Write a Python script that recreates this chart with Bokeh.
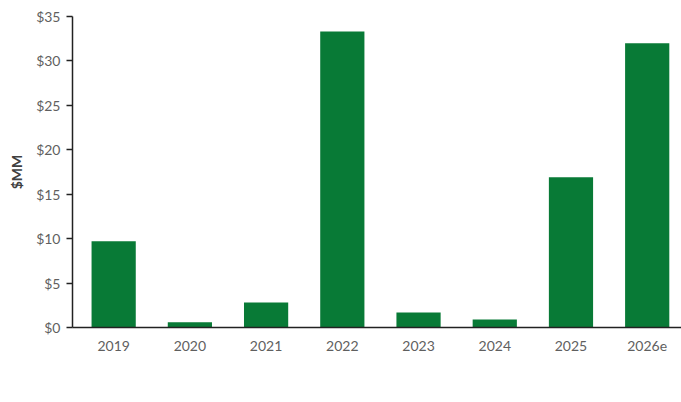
from bokeh.plotting import figure
from bokeh.layouts import column
from bokeh.models import (Range1d, FixedTicker, NumeralTickFormatter, Legend, LegendItem,
                          ColumnDataSource, CDSView, IndexFilter)
from bokeh.embed import file_html
from bokeh.resources import INLINE

years = ["2019", "2020", "2021", "2022", "2023", "2024", "2025", "2026e"]
spending = [9.7, 0.6, 2.8, 33.3, 1.7, 0.9, 16.9, 32.0]
y_ticks = [0, 5, 10, 15, 20, 25, 30, 35]
series_name = "Turnaround spending"
bar_color = "#087a36"

xs = list(range(len(years)))
src = ColumnDataSource(dict(x=xs, top=spending))

p = figure(width=681, height=372, output_backend="svg", toolbar_location=None,
           x_range=Range1d(-0.54, 7.45), y_range=Range1d(0, 35),
           min_border_left=72, min_border_right=0, min_border_top=16, min_border_bottom=45)
p.outline_line_color = None
p.grid.grid_line_color = None
p.background_fill_color = "white"

r = p.vbar(x="x", top="top", width=0.58, source=src, fill_color=bar_color, line_color=None)

font = "Lato"
gray = "#5f5f5f"

p.xaxis.ticker = FixedTicker(ticks=xs)
p.xaxis.major_label_overrides = {i: y for i, y in enumerate(years)}
p.xaxis.major_tick_line_color = None
p.xaxis.major_tick_out = 0
p.xaxis.minor_tick_line_color = None
p.xaxis.axis_line_color = "#222222"
p.xaxis.axis_line_width = 1.5
p.xaxis.major_label_text_font = font
p.xaxis.major_label_text_font_size = "14px"
p.xaxis.major_label_text_color = gray
p.xaxis.major_label_standoff = 13

p.yaxis.ticker = FixedTicker(ticks=y_ticks)
p.yaxis.formatter = NumeralTickFormatter(format="$0")
p.yaxis.major_tick_in = 0
p.yaxis.major_tick_out = 6
p.yaxis.minor_tick_line_color = None
p.yaxis.axis_line_color = "#222222"
p.yaxis.axis_line_width = 1.5
p.yaxis.major_tick_line_color = "#222222"
p.yaxis.major_tick_line_width = 1.5
p.yaxis.major_label_text_font = font
p.yaxis.major_label_text_font_size = "14px"
p.yaxis.major_label_text_color = gray
p.yaxis.major_label_standoff = 6
p.yaxis.axis_label = "$MM"
p.yaxis.axis_label_text_font = font
p.yaxis.axis_label_text_font_size = "14px"
p.yaxis.axis_label_text_font_style = "bold"
p.yaxis.axis_label_text_color = "#404040"
p.yaxis.axis_label_standoff = 8

# legend strip below the chart (its frame is aligned with the chart's frame);
# the bars are filtered out there, only the legend swatch is drawn
p2 = figure(width=681, height=30, output_backend="svg", toolbar_location=None,
            x_range=Range1d(-0.54, 7.45), y_range=Range1d(-20, -10),
            min_border_left=72, min_border_right=0, min_border_top=0, min_border_bottom=0)
p2.axis.visible = False
p2.grid.grid_line_color = None
p2.outline_line_color = None
r2 = p2.vbar(x="x", top="top", width=0.58, source=src, view=CDSView(filter=IndexFilter(indices=[])),
             fill_color=bar_color, line_color=None)

legend = Legend(items=[LegendItem(label=series_name, renderers=[r2], index=0)],
                location=(201, 0), orientation="horizontal",
                label_text_font=font, label_text_font_size="15px", label_text_color=gray,
                glyph_width=10, glyph_height=10, label_standoff=4,
                border_line_color=None, background_fill_alpha=0, padding=2, margin=0)
p2.add_layout(legend, "center")

layout = column(p, p2, spacing=0)
open("out.html", "w").write(file_html(layout, INLINE))
